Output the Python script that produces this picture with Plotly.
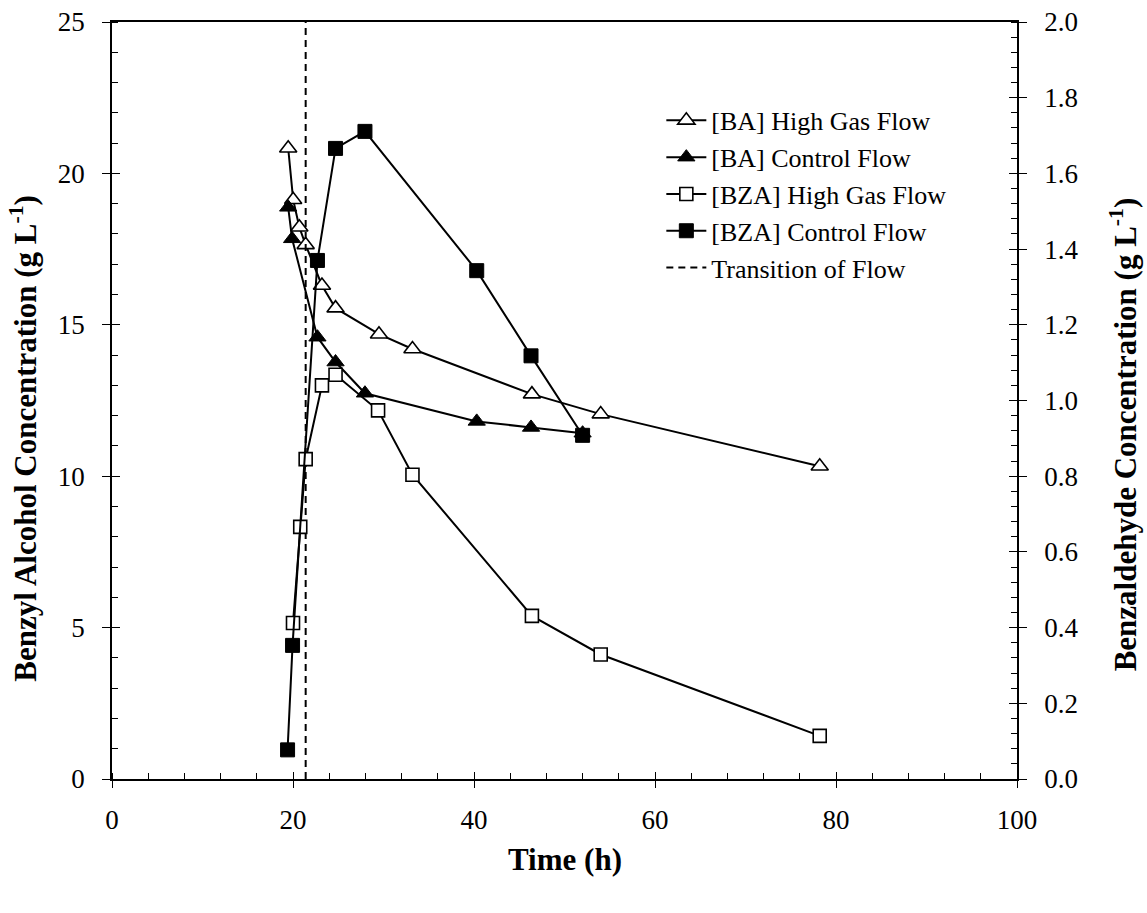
import plotly.graph_objects as go

# ---------------- data ----------------
ba_high_t = [19.47, 20.02, 20.7, 21.4, 23.2, 24.7, 29.5, 33.2, 46.4, 54.0, 78.2]
ba_high_c = [20.83, 19.13, 18.22, 17.64, 16.30, 15.55, 14.69, 14.20, 12.71, 12.05, 10.33]

ba_ctrl_t = [19.47, 19.9, 22.7, 24.7, 27.95, 40.3, 46.3, 52.0]
ba_ctrl_c = [18.88, 17.84, 14.59, 13.77, 12.74, 11.81, 11.61, 11.42]

bza_high_t = [20.0, 20.8, 21.4, 23.2, 24.7, 29.4, 33.2, 46.4, 54.0, 78.2]
bza_high_c = [0.412, 0.666, 0.845, 1.040, 1.068, 0.974, 0.804, 0.431, 0.329, 0.114]

bza_ctrl_t = [19.4, 19.95, 22.7, 24.7, 27.95, 40.3, 46.3, 52.0]
bza_ctrl_c = [0.077, 0.353, 1.370, 1.666, 1.711, 1.343, 1.118, 0.908]

transition_t = [21.4, 21.4]
transition_c = [0, 25]

names = ["[BA] High Gas Flow", "[BA] Control Flow", "[BZA] High Gas Flow",
         "[BZA] Control Flow", "Transition of Flow"]

FONT = "Liberation Serif"

fig = go.Figure()

line = dict(color="black", width=2)
fig.add_trace(go.Scatter(x=ba_high_t, y=ba_high_c, name=names[0], mode="lines+markers",
                         line=line,
                         marker=dict(symbol="triangle-up", size=15, color="white",
                                     line=dict(color="black", width=1.6))))
fig.add_trace(go.Scatter(x=ba_ctrl_t, y=ba_ctrl_c, name=names[1], mode="lines+markers",
                         line=line,
                         marker=dict(symbol="triangle-up", size=15, color="black",
                                     line=dict(color="black", width=1))))
fig.add_trace(go.Scatter(x=bza_high_t, y=bza_high_c, name=names[2], mode="lines+markers",
                         line=line, yaxis="y2",
                         marker=dict(symbol="square", size=13, color="white",
                                     line=dict(color="black", width=1.6))))
fig.add_trace(go.Scatter(x=bza_ctrl_t, y=bza_ctrl_c, name=names[3], mode="lines+markers",
                         line=line, yaxis="y2",
                         marker=dict(symbol="square", size=14, color="black",
                                     line=dict(color="black", width=1))))
fig.add_trace(go.Scatter(x=transition_t, y=transition_c, name=names[4], mode="lines",
                         line=dict(color="black", width=2, dash="7px,5px")))
# invisible helper traces for inward halves of the major ticks
fig.add_trace(go.Scatter(x=[None], y=[None], xaxis="x2", yaxis="y3", showlegend=False,
                         hoverinfo="skip"))
fig.add_trace(go.Scatter(x=[None], y=[None], xaxis="x2", yaxis="y4", showlegend=False,
                         hoverinfo="skip"))

tickfont = dict(family=FONT, size=27, color="black")

fig.update_layout(
    width=1147, height=913,
    margin=dict(l=112, r=130, t=22, b=134, autoexpand=False),
    paper_bgcolor="white", plot_bgcolor="white",
    font=dict(family=FONT, color="black"),
    showlegend=True,
    legend=dict(x=0.607, y=0.901, xanchor="left", yanchor="top",
                bgcolor="rgba(0,0,0,0)", borderwidth=0,
                font=dict(family=FONT, size=26, color="black"),
                tracegroupgap=0, itemwidth=40),
    xaxis=dict(range=[0, 100], dtick=20, tick0=0, showgrid=False, zeroline=False,
               showline=True, linecolor="black", linewidth=1.5, mirror=True,
               ticks="outside", ticklen=7, tickwidth=1.2, tickcolor="black",
               minor=dict(ticks="inside", dtick=4, ticklen=6, tickwidth=1.2,
                          tickcolor="black", showgrid=False),
               tickfont=tickfont, ticklabelstandoff=9),
    yaxis=dict(range=[0, 25], dtick=5, tick0=0, showgrid=False, zeroline=False,
               showline=True, linecolor="black", linewidth=1.5,
               ticks="outside", ticklen=8, tickwidth=1.2, tickcolor="black",
               minor=dict(ticks="inside", dtick=1, ticklen=6, tickwidth=1.2,
                          tickcolor="black", showgrid=False),
               tickfont=tickfont, ticklabelstandoff=12),
    yaxis2=dict(range=[0, 2], dtick=0.2, tick0=0, overlaying="y", side="right",
                showgrid=False, zeroline=False, tickformat=".1f",
                showline=True, linecolor="black", linewidth=1.5,
                ticks="outside", ticklen=8, tickwidth=1.2, tickcolor="black",
                minor=dict(ticks="inside", dtick=0.04, ticklen=6, tickwidth=1.2,
                           tickcolor="black", showgrid=False),
                tickfont=tickfont, ticklabelstandoff=12),
    xaxis2=dict(range=[0, 100], dtick=20, overlaying="x", showgrid=False, zeroline=False,
                showline=False, ticks="inside", ticklen=7, tickwidth=1.2,
                tickcolor="black", showticklabels=False, side="bottom", anchor="y"),
    yaxis3=dict(range=[0, 25], dtick=5, overlaying="y", showgrid=False, zeroline=False,
                showline=False, ticks="inside", ticklen=8, tickwidth=1.2,
                tickcolor="black", showticklabels=False, side="left", anchor="x"),
    yaxis4=dict(range=[0, 2], dtick=0.2, overlaying="y", showgrid=False, zeroline=False,
                showline=False, ticks="inside", ticklen=8, tickwidth=1.2,
                tickcolor="black", showticklabels=False, side="right", anchor="x"),
)

title_font = dict(family=FONT, size=31, color="black", weight="bold")
ytitle_font = dict(family=FONT, size=31, color="black", weight="bold")
fig.add_annotation(text="Time (h)", xref="paper", yref="paper", x=0.5, y=-0.107,
                   xanchor="center", yanchor="middle", showarrow=False, font=title_font)
fig.add_annotation(text="Benzyl Alcohol Concentration (g L<sup>-1</sup>)",
                   xref="paper", yref="paper", x=-0.098, y=0.45, textangle=-90,
                   xanchor="center", yanchor="middle", showarrow=False, font=ytitle_font)
fig.add_annotation(text="Benzaldehyde Concentration (g L<sup>-1</sup>)",
                   xref="paper", yref="paper", x=1.118, y=0.455, textangle=-90,
                   xanchor="center", yanchor="middle", showarrow=False, font=ytitle_font)

fig.write_html("out.html")
